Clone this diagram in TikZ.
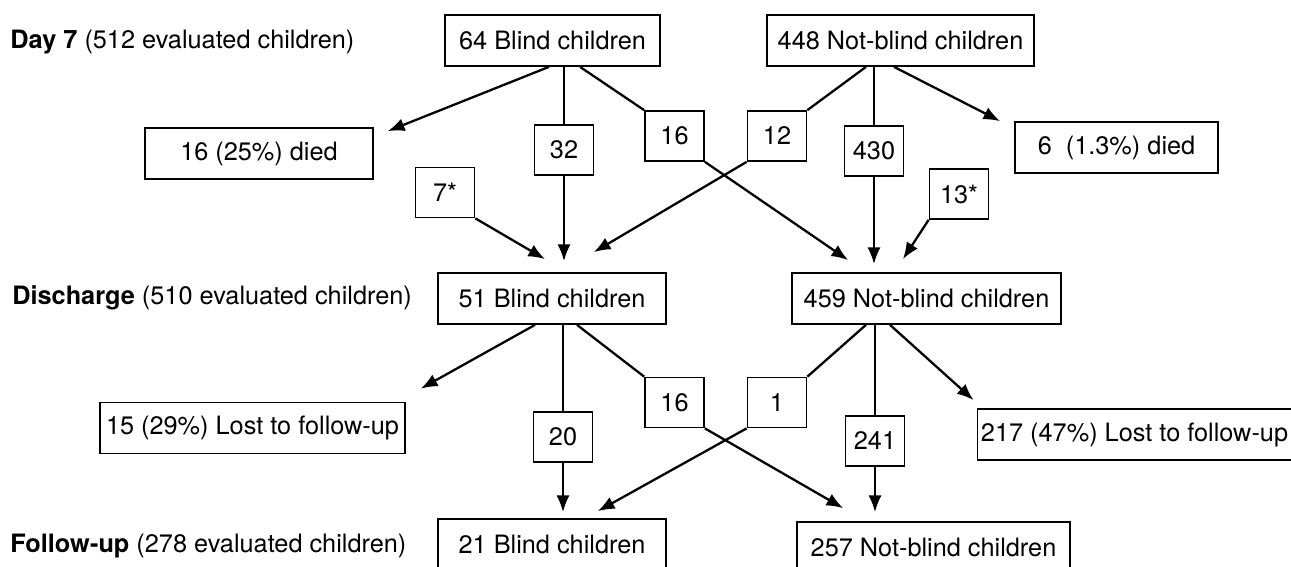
\documentclass[tikz,border=0pt]{standalone}
\usepackage{fontspec}
\setmainfont{TeX Gyre Heros}
\usetikzlibrary{arrows.meta,calc}

\begin{document}
\begin{tikzpicture}[x=0.02cm, y=-0.02cm,
  grp/.style={draw, line width=1pt, minimum height=1.02cm, inner sep=2pt, font=\fontsize{14.4}{17}\selectfont},
  cnt/.style={draw, line width=1pt, minimum width=1.18cm, minimum height=1.0cm, inner sep=0pt, font=\fontsize{14.4}{17}\selectfont},
  stage/.style={anchor=west, inner sep=0pt, font=\fontsize{14.4}{17}\selectfont},
  arr/.style={-{Latex[length=9.5pt,width=7.5pt]}, line width=1.3pt},
  ln/.style={line width=1.3pt}
]
\useasboundingbox (0,0) rectangle (1291,567);
\clip (0,0) rectangle (1291,567);

\node[stage] (lday7) at (10,42) {\textbf{Day 7} (512 evaluated children)};
\node[stage] (ldis) at (12,298) {\textbf{Discharge} (510 evaluated children)};
\node[stage] (lfol) at (10,546) {\textbf{Follow-up} (278 evaluated children)};

% day 7
\node[grp, minimum width=4.30cm] (b7) at (552.5,40.5) {64 Blind children};
\node[grp, minimum width=5.34cm] (nb7) at (900.5,40.5) {448 Not-blind children};
\node[grp, minimum width=4.56cm] (died7b) at (259,153.5) {16 (25\%) died};
\node[grp, minimum width=4.06cm] (died7n) at (1116.5,147.5) {6\ \ (1.3\%) died};
\node[cnt] (k32) at (564,150) {32};
\node[cnt] (k16a) at (674.5,136) {16};
\node[cnt] (k12) at (777,136) {12};
\node[cnt] (k430) at (874,151) {430};
\node[cnt] (k7) at (445,192.5) {7*};
\node[cnt] (k13) at (959,194) {13*};

% discharge
\node[grp, minimum width=4.56cm] (bd) at (552,298.5) {51 Blind children};
\node[grp, minimum width=5.38cm] (nbd) at (926.5,298.5) {459 Not-blind children};
\node[grp, minimum width=6.10cm] (lostb) at (252.5,428) {15 (29\%) Lost to follow-up};
\node[grp, minimum width=6.18cm] (lostn) at (1134.5,434.5) {217 (47\%) Lost to follow-up};
\node[cnt] (k20) at (563,437) {20};
\node[cnt] (k16b) at (674.5,402.5) {16};
\node[cnt] (k1) at (777,402.5) {1};
\node[cnt] (k241) at (875,441) {241};

% follow-up
\node[grp, minimum width=4.56cm] (bf) at (552,544.5) {21 Blind children};
\node[grp, minimum width=5.46cm] (nbf) at (933.5,547.5) {257 Not-blind children};

\draw[arr] ($(b7.south)+(-3.5,0)$) -- ($(died7b.north east)+(14,4)$);
\draw[ln] (b7.south -| k32.north) -- (k32.north);
\draw[arr] (k32.south) -- ($(bd.north -| k32.south)+(0,-11)$);
\draw[ln] ($(b7.south)+(27.5,0)$) -- (k16a.north west);
\draw[arr] (k16a.south east) -- ($(nbd.north west)+(57,-12)$);
\draw[ln] ($(nb7.south)+(-34.5,0)$) -- (k12.north east);
\draw[arr] (k12.south west) -- ($(bd.north east)+(-73,-20)$);
\draw[ln] (nb7.south -| k430.north) -- (k430.north);
\draw[arr] (k430.south) -- ($(nbd.north -| k430.south)+(0,-8)$);
\draw[arr] ($(nb7.south)+(-6.5,0)$) -- ($(died7n.north west)+(-14,0)$);
\draw[arr] (k7.south east) -- ($(bd.north)+(-7,-13)$);
\draw[arr] (k13.south west) -- ($(nbd.north)+(-23.5,-13)$);

\draw[arr] ($(bd.south)+(-17,0)$) -- ($(lostb.north east)+(15,-13)$);
\draw[ln] (bd.south -| k20.north) -- (k20.north);
\draw[arr] (k20.south) -- ($(bf.north -| k20.south)+(0,-6)$);
\draw[ln] ($(bd.south)+(25,0)$) -- (k16b.north west);
\draw[arr] (k16b.south east) -- ($(nbf.north west)+(47,-13)$);
\draw[ln] ($(nbd.south)+(-60.5,0)$) -- (k1.north east);
\draw[arr] (k1.south west) -- ($(bf.north east)+(-69,-7)$);
\draw[ln] (nbd.south -| k241.north) -- (k241.north);
\draw[arr] (k241.south) -- ($(nbf.north -| k241.south)+(0,-9)$);
\draw[arr] ($(nbd.south)+(-36.5,0)$) -- ($(lostn.north west)+(-3,-8)$);

\end{tikzpicture}
\end{document}
